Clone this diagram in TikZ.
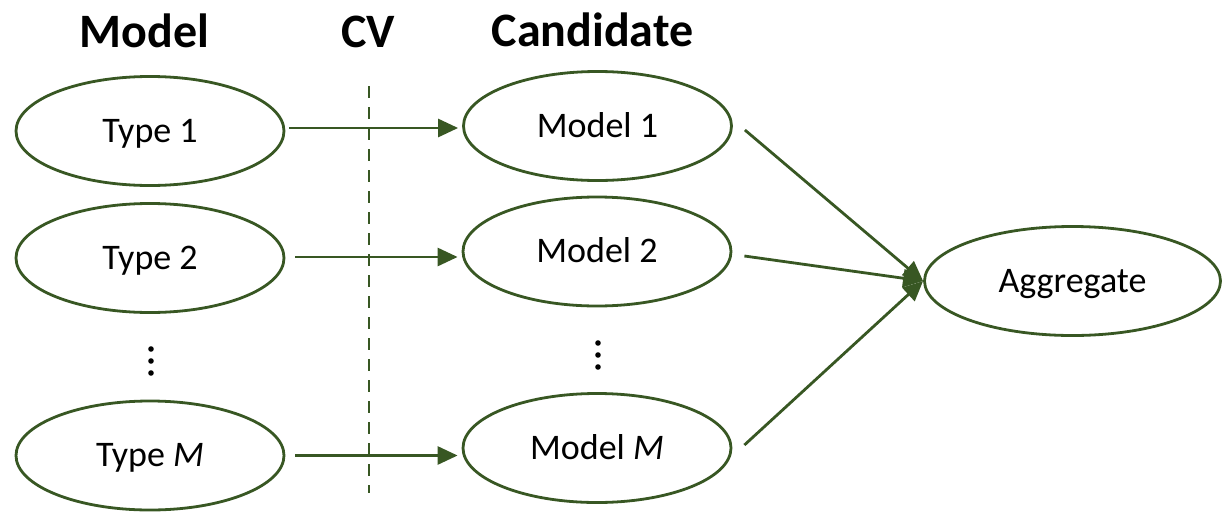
\documentclass[tikz,border=0pt]{standalone}
\usepackage{fontspec}
\setmainfont{Carlito}
\usetikzlibrary{shapes.geometric,arrows.meta}
\definecolor{leaf}{RGB}{56,87,35}
\begin{document}
\begin{tikzpicture}[x=1pt,y=-1pt,
		oval/.style={ellipse,draw=leaf,line width=2.8pt,inner sep=0pt,minimum height=109pt,font=\fontsize{36}{40}\selectfont,text height=22.7pt,text depth=0pt},
		heading/.style={font=\fontsize{48}{54}\selectfont\bfseries,inner sep=0pt,text height=30.5pt,text depth=0pt},
		link/.style={draw=leaf,line width=2.8pt,-{Triangle[length=20pt,width=18pt]}},
		cvline/.style={draw=leaf,line width=2.8pt,dash pattern=on 12pt off 9pt}]
		\useasboundingbox (0,0) rectangle (1232,517);
		%\draw [help lines] (0,0) grid (1232,517);
	% headings
		\node [heading] (hmodel) at (144.5,32) {Model};
		\node [heading] (hcv) at (368,32) {CV};
		\node [heading] (hcand) at (592.5,31) {Candidate};
	% model types
		\node [oval,minimum width=268pt] (t1) at (150,131) {Type 1};
		\node [oval,minimum width=268pt] (t2) at (150,258) {Type 2};
		\node [oval,minimum width=268pt] (tM) at (150,455.5) {Type \textit{M}};
	% candidates
		\node [oval,minimum width=268pt] (m1) at (597.5,126) {Model 1};
		\node [oval,minimum width=268pt] (m2) at (597,251.5) {Model 2};
		\node [oval,minimum width=268pt] (mM) at (597,448) {Model \textit{M}};
		\node [oval,minimum width=296pt] (agg) at (1072.5,281) {Aggregate};
	% dots
		\coordinate (dots1) at (151,361);
		\coordinate (dots2) at (598,355);
		\foreach \d in {-12,0,12} {
			\fill (dots1) ++(0,\d) circle (2.8pt);
			\fill (dots2) ++(0,\d) circle (2.8pt);
		}
	% cv line
		\coordinate (cvtop) at (369,86);
		\coordinate (cvbot) at (369,493);
		\draw [cvline] (cvtop) -- (cvbot);
	% arrows
		\draw [link,shorten <=4pt,shorten >=4pt] ([yshift=3pt]t1.east) -- ([yshift=3pt]t1.east -| m1.west);
		\draw [link,shorten <=10pt,shorten >=4pt] ([yshift=1pt]t2.east) -- ([yshift=1pt]t2.east -| m2.west);
		\draw [link,shorten <=10pt,shorten >=4pt] (tM.east) -- (tM.east -| mM.west);
		\draw [link] ([xshift=12pt,yshift=-4pt]m1.east) -- (agg.west);
		\draw [link] ([xshift=12pt,yshift=-4.5pt]m2.east) -- (agg.west);
		\draw [link] ([xshift=12pt,yshift=3pt]mM.east) -- (agg.west);
\end{tikzpicture}
\end{document}
